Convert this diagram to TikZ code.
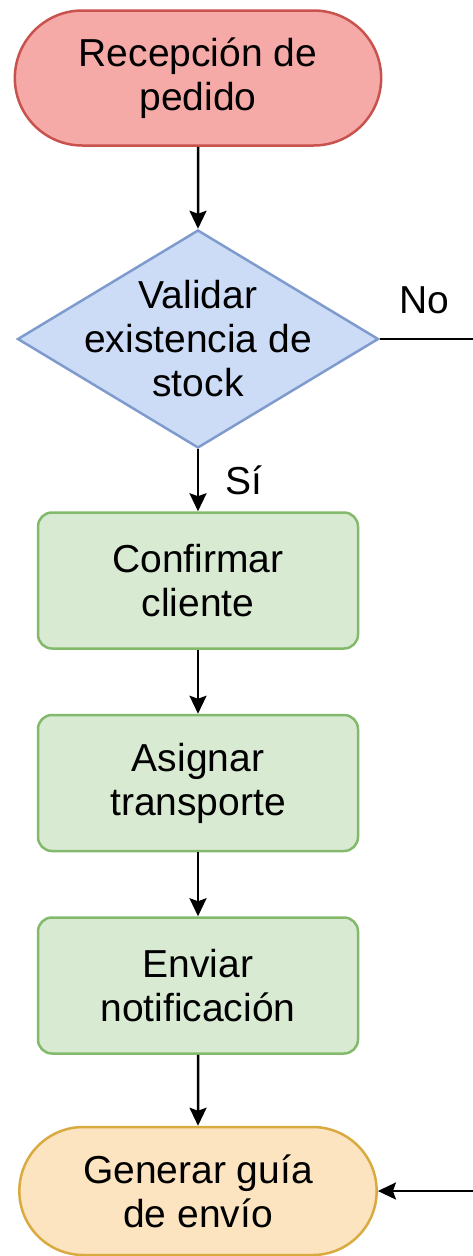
\documentclass[tikz,border=0pt]{standalone}
\usepackage{fontspec}
\setmainfont{Liberation Sans}
\usetikzlibrary{shapes.geometric, shapes.misc, arrows.meta, positioning}

\definecolor{startfill}{HTML}{F5AAA7}
\definecolor{startdraw}{HTML}{C8524D}
\definecolor{checkfill}{HTML}{CCDCF7}
\definecolor{checkdraw}{HTML}{7F9BCE}
\definecolor{procfill}{HTML}{D9EAD3}
\definecolor{procdraw}{HTML}{82B96A}
\definecolor{endfill}{HTML}{FCE4C0}
\definecolor{enddraw}{HTML}{D9AA3F}

\begin{document}
\begin{tikzpicture}[
    x=1pt, y=-1pt,
    every node/.style={font=\fontsize{39}{44}\selectfont},
    startstop/.style={rounded rectangle, draw, line width=2.5pt, minimum width=373pt, minimum height=135pt, align=center},
    decision/.style={diamond, draw=checkdraw, fill=checkfill, line width=2.5pt, minimum width=361pt, minimum height=218pt, inner sep=0pt},
    process/.style={rectangle, draw=procdraw, fill=procfill, line width=2.5pt, rounded corners=14pt, minimum width=320pt, minimum height=136pt, align=center},
    arrow/.style={-{Stealth[length=18pt, width=17pt, inset=3pt]}, line width=2.5pt},
    tag/.style={inner sep=0pt}
]
    \useasboundingbox (0,0) rectangle (472,1256);

    % Nodes
    \node[startstop, draw=startdraw, fill=startfill] (recv) at (198,78) {Recepción de\\pedido};
    \node[decision, below=82pt of recv, label={[align=center]center:Validar\\existencia de\\stock}] (check) {};
    \node[process, below=62pt of check] (confirm) {Confirmar\\cliente};
    \node[process, below=64pt of confirm] (assign) {Asignar\\transporte};
    \node[process, below=64pt of assign] (notify) {Enviar\\notificación};
    \node[startstop, draw=enddraw, fill=endfill, minimum width=364pt, minimum height=128pt, below=71pt of notify] (ship) {Generar guía\\de envío};
    \coordinate (offright) at (510,0);

    % Arrows
    \draw[arrow] (recv) -- (check);
    \draw[arrow] (check) -- node[tag, right=26pt] {Sí} (confirm);
    \draw[arrow] (confirm) -- (assign);
    \draw[arrow] (assign) -- (notify);
    \draw[arrow] (notify) -- (ship);
    \draw[arrow] (check.east) -- node[tag, pos=0.34, anchor=base, yshift=26pt] {No} (check.east -| offright) |- (ship.east);
\end{tikzpicture}
\end{document}
